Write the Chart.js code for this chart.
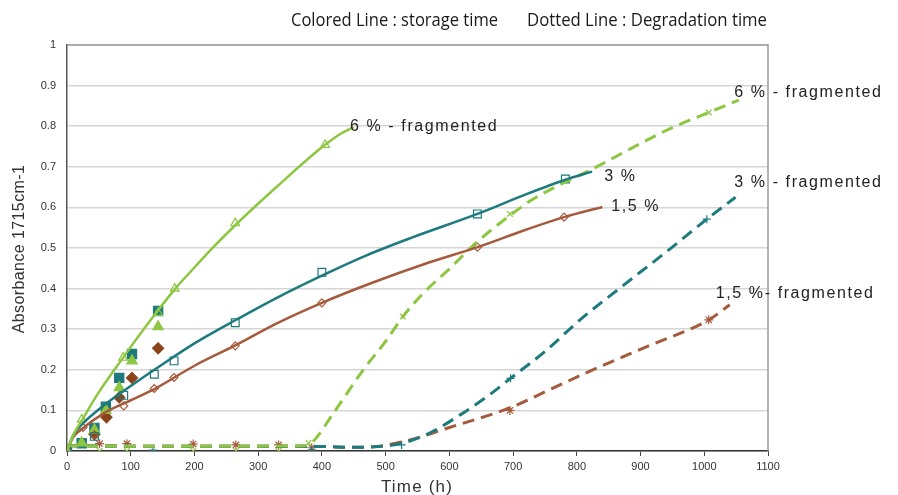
<!DOCTYPE html>
<html>
<head>
<meta charset="utf-8">
<script src="https://cdn.jsdelivr.net/npm/chart.js@4.4.1/dist/chart.umd.min.js"></script>
<style>
  html, body { margin: 0; padding: 0; background: #fff; }
  #wrap { width: 898px; height: 495px; }
</style>
</head>
<body>
<div id="wrap"><canvas id="graf" width="898" height="495"></canvas></div>
<script>
// valores (tempo em h, absorbancia 1715cm-1)

// linhas continuas - tempo de armazenamento
var curva6 = [[0,0],[10,0.04],[25,0.08],[50,0.145],[88,0.23],[130,0.32],[170,0.40],[200,0.452],[227,0.498],[264,0.556],[330,0.652],[400,0.748],[430,0.782],[450,0.798]];
var curva3 = [[0,0],[10,0.04],[20,0.06],[60,0.115],[100,0.16],[140,0.203],[200,0.265],[264,0.322],[330,0.378],[400,0.432],[470,0.482],[540,0.525],[644,0.584],[720,0.632],[782,0.668],[824,0.688]];
var curva15 = [[0,0],[10,0.035],[20,0.05],[60,0.095],[100,0.125],[140,0.155],[200,0.21],[264,0.26],[330,0.315],[400,0.365],[480,0.415],[560,0.46],[644,0.502],[720,0.545],[780,0.576],[840,0.601]];

// marcadores vazios sobre as linhas continuas
var aberto6 = [[0,0],[23,0.078],[88,0.23],[143,0.34],[169,0.40],[264,0.561],[405,0.754]];
var aberto3 = [[0,0],[43,0.036],[89,0.137],[137,0.189],[168,0.222],[264,0.316],[400,0.44],[644,0.584],[782,0.670]];
var aberto15 = [[0,0],[25,0.058],[43,0.04],[89,0.111],[137,0.154],[168,0.181],[264,0.259],[400,0.365],[644,0.502],[780,0.576]];

// marcadores cheios (sem linha)
var cheio6 = [[0,0],[23,0.02],[43,0.052],[61,0.10],[82,0.156],[102,0.222],[143,0.306]];
var cheio3 = [[0,0],[23,0.019],[43,0.057],[61,0.109],[82,0.18],[102,0.239],[143,0.345]];
var cheio15 = [[43,0.041],[62,0.083],[82,0.132],[102,0.18],[143,0.253]];

// linhas tracejadas - tempo de degradacao
var degr6 = [[0,0.013],[100,0.012],[200,0.012],[300,0.012],[370,0.013],[385,0.022],[418,0.093],[465,0.20],[500,0.27],[527,0.331],[560,0.39],[601,0.45],[633,0.5],[660,0.537],[695,0.58],[729,0.618],[831,0.70],[941,0.79],[1007,0.834],[1054,0.864]];
var degr3 = [[0,0.013],[100,0.012],[200,0.012],[300,0.012],[400,0.011],[450,0.009],[490,0.011],[528,0.02],[570,0.045],[617,0.089],[660,0.135],[696,0.179],[750,0.245],[805,0.323],[873,0.408],[940,0.49],[1004,0.571],[1049,0.625]];
var degr15 = [[0,0.013],[100,0.012],[200,0.012],[300,0.012],[400,0.011],[450,0.009],[490,0.012],[538,0.027],[600,0.058],[650,0.082],[696,0.107],[760,0.153],[831,0.204],[910,0.257],[1007,0.323],[1040,0.36]];

// marcadores das curvas de degradacao
var marca6 = [[0,0],[51,0.0],[94,0.0],[198,0.0],[265,0.0],[332,0.0],[379,0.02],[527,0.331],[695,0.584],[1007,0.834]];
var marca3 = [[0,0],[135,0.002],[384,0.003],[525,0.015],[696,0.179],[1004,0.571]];
var marca15 = [[51,0.018],[94,0.018],[198,0.017],[265,0.015],[332,0.015],[384,0.008],[695,0.1],[1007,0.323]];

// eixos
var ticksX = [0,100,200,300,400,500,600,700,800,900,1000,1100];
var ticksY = [0,0.1,0.2,0.3,0.4,0.5,0.6,0.7,0.8,0.9,1];

var VERDE = '#8dc641';
var AZUL = '#1d7a7d';
var MARROM = '#a65a3c';
var MARROM_ESC = '#8b4319';

function pts(arr) {
    return arr.map(function(p) { return { x: p[0], y: p[1] }; });
}

function linha(arr, cor, tracejada) {
    return {
        data: pts(arr),
        showLine: true,
        borderColor: cor,
        borderWidth: tracejada ? 3 : 2.5,
        borderDash: tracejada ? [12, 7] : [],
        pointRadius: 0,
        cubicInterpolationMode: 'monotone',
        fill: false
    };
}

function marcas(arr, cor, estilo, cheio, raio) {
    return {
        data: pts(arr),
        showLine: false,
        pointStyle: estilo,
        pointRadius: raio || 4,
        pointBorderColor: cor,
        pointBackgroundColor: cheio ? cor : 'rgba(255,255,255,0)',
        pointBorderWidth: 1.2
    };
}

// textos sobre o grafico (posicao em coordenadas de dados)
var rotulos = [
    { texto: '6 % - fragmented', x: 444, y: 0.8 },
    { texto: '3 %', x: 843, y: 0.675 },
    { texto: '1,5 %', x: 854, y: 0.603 },
    { texto: '6 % - fragmented', x: 1047, y: 0.882 },
    { texto: '3 % - fragmented', x: 1047, y: 0.66 },
    { texto: '1,5 %- fragmented', x: 1018, y: 0.388 }
];

// texto com largura ajustada (fonte condensada do original)
function textoLargura(c, txt, x, y, largura) {
    var w = c.measureText(txt).width;
    c.save();
    c.translate(x, y);
    c.scale(largura / w, 1);
    c.fillText(txt, 0, 0);
    c.restore();
}

var textos = {
    id: 'textos',
    afterDraw: function(chart) {
        var c = chart.ctx;
        var a = chart.chartArea;
        var sx = chart.scales.x, sy = chart.scales.y;
        c.save();
        // borda superior e direita
        c.strokeStyle = '#9a9a9a';
        c.lineWidth = 1.5;
        c.beginPath();
        c.moveTo(a.left, a.top);
        c.lineTo(a.right, a.top);
        c.lineTo(a.right, a.bottom);
        c.stroke();

        // rotulos das curvas
        c.fillStyle = '#222';
        c.font = '16px "Liberation Sans", Arial, sans-serif';
        c.textBaseline = 'middle';
        c.textAlign = 'left';
        if ('letterSpacing' in c) c.letterSpacing = '1.6px';
        rotulos.forEach(function(r) {
            c.fillText(r.texto, sx.getPixelForValue(r.x), sy.getPixelForValue(r.y));
        });
        if ('letterSpacing' in c) c.letterSpacing = '0px';

        // legenda do topo
        c.font = '18px "Open Sans", "Noto Sans", sans-serif';
        c.fillStyle = '#1a1a1a';
        c.textBaseline = 'alphabetic';
        textoLargura(c, 'Colored Line : storage time', 291, 26, 207);
        textoLargura(c, 'Dotted Line : Degradation time', 527, 26, 240);

        // titulos dos eixos
        c.fillStyle = '#333';
        c.textBaseline = 'middle';
        c.textAlign = 'center';
        c.font = '17px "Liberation Sans", Arial, sans-serif';
        if ('letterSpacing' in c) c.letterSpacing = '1.2px';
        c.fillText('Time (h)', 417, 487);
        c.font = '16px "Liberation Sans", Arial, sans-serif';
        if ('letterSpacing' in c) c.letterSpacing = '0.4px';
        c.translate(20, 249);
        c.rotate(-Math.PI / 2);
        c.fillText('Absorbance 1715cm-1', 0, 0);
        c.restore();
    }
};

var ctx = document.getElementById('graf').getContext('2d');
new Chart(ctx, {
    type: 'scatter',
    data: {
        datasets: [
            linha(curva6, VERDE, false),
            linha(curva3, AZUL, false),
            linha(curva15, MARROM, false),
            linha(degr6, VERDE, true),
            linha(degr3, AZUL, true),
            linha(degr15, MARROM, true),
            marcas(aberto6, VERDE, 'triangle', false, 5),
            marcas(aberto3, AZUL, 'rect', false, 5.5),
            marcas(aberto15, MARROM, 'rectRot', false, 4),
            marcas(cheio6, VERDE, 'triangle', true, 6),
            marcas(cheio3, AZUL, 'rect', true, 6.5),
            marcas(cheio15, MARROM_ESC, 'rectRot', true, 5.5),
            marcas(marca6, VERDE, 'crossRot', false, 4),
            marcas(marca3, AZUL, 'cross', false, 4),
            marcas(marca15, MARROM, 'star', false, 4.5)
        ]
    },
    options: {
        responsive: false,
        animation: false,
        layout: { padding: { top: 45, right: 130, left: 0, bottom: 0 } },
        plugins: {
            legend: { display: false },
            tooltip: { enabled: false }
        },
        scales: {
            x: {
                type: 'linear',
                min: 0,
                max: 1100,
                afterBuildTicks: function(s) { s.ticks = ticksX.map(function(v) { return { value: v }; }); },
                afterFit: function(s) { s.height = 44; },
                grid: { drawOnChartArea: false, drawTicks: true, tickLength: 5, color: '#444', lineWidth: 1 },
                border: { color: '#333', width: 1.5 },
                ticks: {
                    color: '#333',
                    padding: 4,
                    maxRotation: 0,
                    font: { family: '"Liberation Sans", Arial, sans-serif', size: 11 },
                    callback: function(v) { return String(v); }
                }
            },
            y: {
                min: 0,
                max: 1,
                afterBuildTicks: function(s) { s.ticks = ticksY.map(function(v) { return { value: v }; }); },
                afterFit: function(s) { s.width = 67; },
                grid: { color: '#d6d6d6', lineWidth: 1.5, drawTicks: false },
                border: { color: '#555', width: 1.5 },
                ticks: {
                    color: '#333',
                    padding: 11,
                    font: { family: '"Liberation Sans", Arial, sans-serif', size: 11 },
                    callback: function(v) { return String(Math.round(v * 10) / 10); }
                }
            }
        }
    },
    plugins: [textos]
});
</script>
</body>
</html>
